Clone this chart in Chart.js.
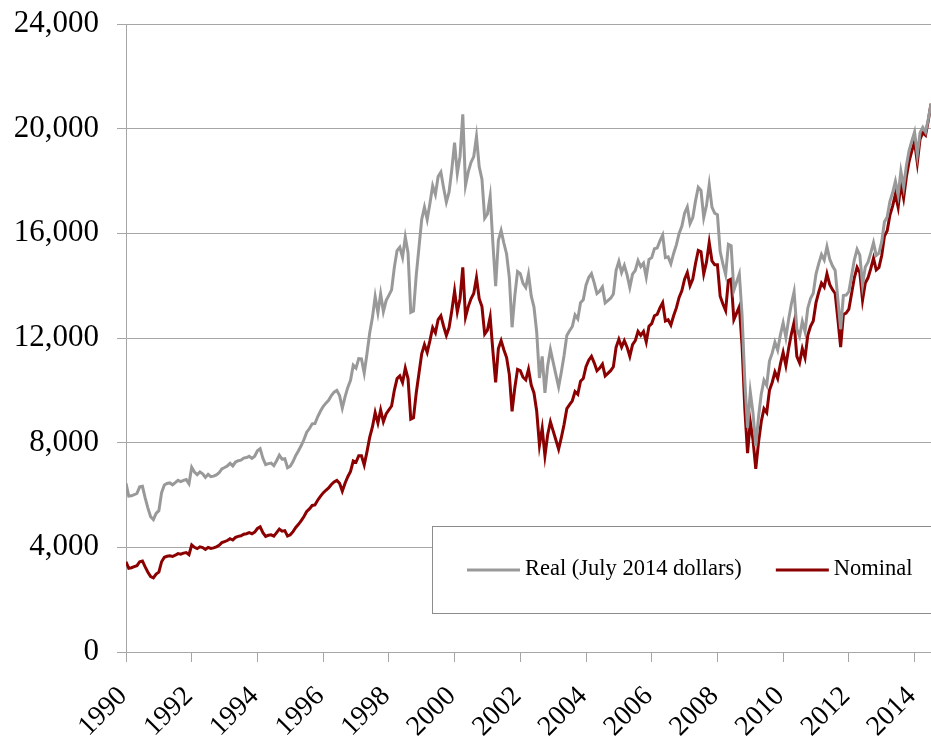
<!DOCTYPE html>
<html>
<head>
<meta charset="utf-8">
<script src="https://cdn.jsdelivr.net/npm/chart.js@4.4.1/dist/chart.umd.min.js"></script>
<style>
html, body { margin: 0; padding: 0; background: #fff; }
canvas { display: block; }
</style>
</head>
<body>
<canvas id="chart" width="931" height="736"></canvas>
<script>
// monthly values, first point = Jan 1990, last = Jul 2014
var startYear = 1990;
var yearTicks = [1990, 1992, 1994, 1996, 1998, 2000, 2002, 2004, 2006, 2008, 2010, 2012, 2014];
var valueTicks = [0, 4000, 8000, 12000, 16000, 20000, 24000];
var seriesLabels = ['Real (July 2014 dollars)', 'Nominal'];
var seriesColors = ['#999999', '#8b0000'];

var nominal = [
    3450, 3200, 3220, 3260, 3300, 3450, 3480, 3250, 3050, 2880, 2830, 2980,
    3050, 3450, 3620, 3660, 3680, 3650, 3700, 3760, 3740, 3780, 3800, 3720,
    4090, 4000, 3950, 4020, 3990, 3920, 4000, 3960, 3980, 4020, 4080, 4180,
    4220, 4260, 4330, 4280, 4380, 4420, 4440, 4500, 4520, 4560, 4520, 4580,
    4720, 4780, 4560, 4420, 4460, 4480, 4430, 4560, 4700, 4620, 4640, 4430,
    4480, 4600, 4760, 4880, 5020, 5180, 5370, 5470, 5600, 5620, 5800, 5950,
    6080, 6180, 6270, 6400, 6500, 6560, 6450, 6150, 6450, 6700, 6900, 7300,
    7250, 7500, 7500, 7150, 7650, 8200, 8600, 9150, 8750, 9250, 8800, 9100,
    9250, 9400, 10000, 10450, 10550, 10300, 10850, 10450, 8900, 8950, 9900, 10650,
    11400, 11750, 11450, 11900, 12400, 12200, 12700, 12850, 12450, 12100, 12400, 13050,
    13800, 13000, 13500, 14700, 12800, 13200, 13500, 13700, 14300, 13500, 13200, 12150,
    12300, 12800, 11500, 10300, 11600, 11900, 11550, 11250, 10600, 9200, 10100, 10800,
    10750, 10500, 10400, 10800, 10200, 9900, 9200, 7900, 8550, 7500, 8300, 8800,
    8450, 8100, 7750, 8200, 8700, 9300, 9450, 9600, 9950, 9850, 10350, 10450,
    10900, 11150, 11300, 11050, 10750, 10850, 11000, 10550, 10650, 10750, 10900, 11650,
    11950, 11650, 11900, 11650, 11300, 11750, 11900, 12250, 12100, 12250, 11850, 12450,
    12550, 12850, 12900, 13150, 13350, 12650, 12700, 12500, 12850, 13150, 13550, 13800,
    14250, 14500, 14000, 14250, 14850, 15350, 15300, 14450, 14900, 15650, 14950, 14800,
    14800, 13600, 13300, 13050, 14200, 14250, 12700, 12950, 13200, 11700, 9300, 7600,
    8800, 8100, 7000, 8000, 8800, 9300, 9150, 10000, 10300, 10700, 10450, 11000,
    11450, 10950, 11600, 12150, 12600, 11300, 11050, 11600, 11250, 12100, 12450, 12650,
    13350, 13750, 14100, 13950, 14450, 14050, 13850, 13700, 12700, 11650, 12900, 12950,
    13100, 13700, 14300, 14700, 14500, 13450, 14100, 14300, 14650, 15050, 14600, 14700,
    15150, 15900, 16100, 16700, 17050, 17500, 17000, 17900, 17350, 18150, 18750, 19150,
    19500, 18700, 19600, 19850, 19750, 20300, 20950
];

var real = [
    6450, 5960, 5970, 6010, 6060, 6310, 6330, 5890, 5500, 5170, 5060, 5300,
    5400, 6090, 6380, 6440, 6460, 6390, 6470, 6560, 6510, 6560, 6590, 6430,
    7060, 6880, 6780, 6880, 6810, 6670, 6790, 6700, 6720, 6770, 6850, 7000,
    7050, 7110, 7210, 7110, 7260, 7310, 7330, 7410, 7430, 7480, 7400, 7480,
    7690, 7770, 7400, 7160, 7200, 7220, 7120, 7310, 7520, 7370, 7390, 7040,
    7100, 7280, 7510, 7690, 7890, 8120, 8400, 8540, 8720, 8730, 8990, 9200,
    9380, 9510, 9620, 9800, 9930, 10000, 9800, 9320, 9750, 10110, 10380, 10960,
    10850, 11210, 11200, 10660, 11390, 12190, 12780, 13580, 12970, 13690, 13010, 13430,
    13630, 13840, 14700, 15340, 15470, 15080, 15860, 15260, 12980, 13030, 14390, 15460,
    16530, 17000, 16530, 17140, 17820, 17490, 18170, 18340, 17730, 17190, 17580, 18450,
    19470, 18290, 18940, 20550, 17840, 18350, 18710, 18930, 19700, 18540, 18070, 16580,
    16740, 17410, 15620, 13980, 15730, 16110, 15630, 15210, 14310, 12410, 13610, 14540,
    14460, 14090, 13930, 14440, 13610, 13180, 12220, 10470, 11300, 9900, 10930, 11560,
    11080, 10600, 10130, 10700, 11340, 12100, 12280, 12440, 12880, 12730, 13350, 13460,
    14020, 14310, 14460, 14110, 13700, 13790, 13950, 13340, 13430, 13520, 13680, 14590,
    14930, 14500, 14770, 14410, 13930, 14440, 14580, 14960, 14730, 14860, 14330, 15000,
    15070, 15410, 15440, 15710, 15930, 15070, 15100, 14840, 15230, 15560, 16000, 16270,
    16770, 17010, 16370, 16600, 17240, 17760, 17640, 16600, 17060, 17860, 17000, 16770,
    16710, 15300, 14830, 14420, 15580, 15530, 13820, 14140, 14450, 12870, 10370, 8570,
    9940, 9130, 7870, 8980, 9850, 10390, 10190, 11120, 11420, 11840, 11540, 12120,
    12580, 12020, 12710, 13300, 13770, 12340, 12060, 12630, 12240, 13140, 13510, 13710,
    14440, 14840, 15190, 14980, 15490, 15020, 14760, 14580, 13470, 12340, 13620, 13640,
    13770, 14390, 14990, 15390, 15170, 14040, 14710, 14900, 15250, 15640, 15150, 15240,
    15680, 16440, 16620, 17220, 17560, 17990, 17460, 18370, 17770, 18570, 19160, 19530,
    19870, 19000, 19850, 20050, 19870, 20360, 20950
];

function toPoints(values) {
    return values.map(function(v, i) { return {x: startYear + i / 12, y: v}; });
}

var serif = '"Liberation Serif", "Times New Roman", serif';
var axisGrey = '#a6a6a6';

var legendBox = {
    id: 'legendBox',
    afterDatasetsDraw: function(chart) {
        var ctx = chart.ctx;
        ctx.save();
        ctx.fillStyle = '#fff';
        ctx.strokeStyle = '#8c8c8c';
        ctx.lineWidth = 1;
        ctx.fillRect(432, 526, 520, 88);
        ctx.strokeRect(432.5, 526.5, 520, 87);
        ctx.font = '22.5px ' + serif;
        ctx.textBaseline = 'middle';
        var x = 467, y = 570;
        chart.data.datasets.forEach(function(ds) {
            ctx.strokeStyle = ds.borderColor;
            ctx.lineWidth = 3;
            ctx.beginPath();
            ctx.moveTo(x, y);
            ctx.lineTo(x + 53, y);
            ctx.stroke();
            ctx.fillStyle = '#000';
            ctx.fillText(ds.label, x + 58, y - 1);
            x += 58 + ctx.measureText(ds.label).width + 34;
        });
        ctx.restore();
    }
};

new Chart(document.getElementById('chart').getContext('2d'), {
    type: 'line',
    data: {
        datasets: [{
            label: seriesLabels[0],
            data: toPoints(real),
            borderColor: seriesColors[0],
            borderWidth: 3,
            pointRadius: 0,
            tension: 0
        }, {
            label: seriesLabels[1],
            data: toPoints(nominal),
            borderColor: seriesColors[1],
            borderWidth: 3,
            pointRadius: 0,
            tension: 0
        }]
    },
    options: {
        responsive: false,
        animation: false,
        layout: {padding: {top: 24, right: 0, left: 0, bottom: 0}},
        plugins: {legend: {display: false}, tooltip: {enabled: false}},
        scales: {
            x: {
                type: 'linear',
                min: 1990,
                max: 2014.5,
                afterBuildTicks: function(s) {
                    s.ticks = yearTicks.map(function(v) { return {value: v}; });
                },
                afterFit: function(s) {
                    s.height = 84;
                    s.paddingLeft = 0;
                    s.paddingRight = 0;
                },
                ticks: {
                    autoSkip: false,
                    minRotation: 45,
                    maxRotation: 45,
                    padding: 18,
                    labelOffset: -3,
                    color: '#000',
                    font: {family: serif, size: 28},
                    callback: function(v) { return String(v); }
                },
                grid: {drawOnChartArea: false, drawTicks: true, tickLength: 10, color: axisGrey},
                border: {color: axisGrey}
            },
            y: {
                min: 0,
                max: 24000,
                afterBuildTicks: function(s) {
                    s.ticks = valueTicks.map(function(v) { return {value: v}; });
                },
                afterFit: function(s) {
                    s.width = 126;
                    s.paddingTop = 0;
                    s.paddingBottom = 0;
                },
                ticks: {
                    padding: 18,
                    color: '#000',
                    font: {family: serif, size: 31},
                    callback: function(v) { return v.toLocaleString('en-US'); }
                },
                grid: {tickLength: 9, color: axisGrey},
                border: {color: axisGrey}
            }
        }
    },
    plugins: [legendBox]
});
</script>
</body>
</html>
